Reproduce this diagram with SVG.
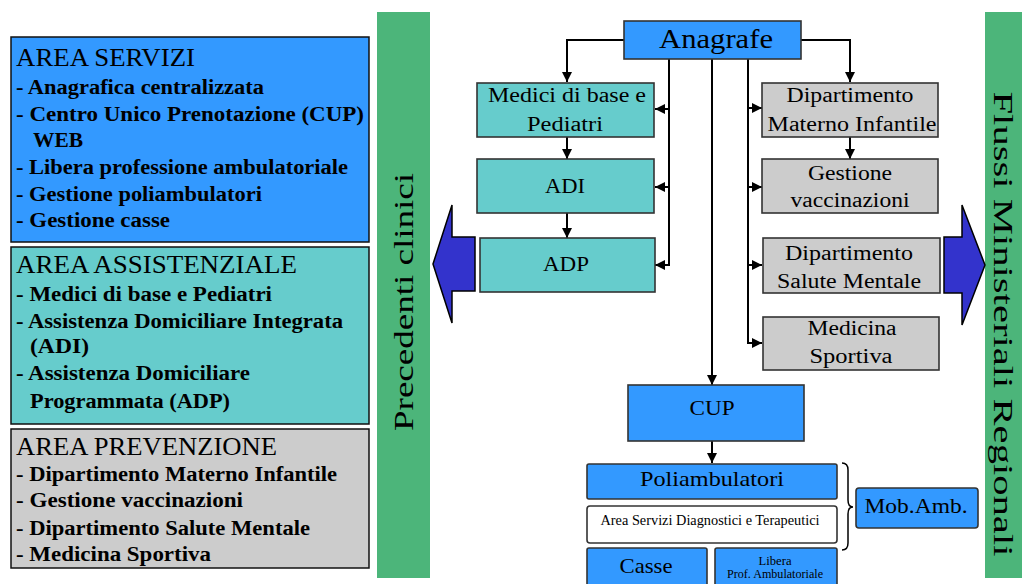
<svg xmlns="http://www.w3.org/2000/svg" width="1027" height="584" viewBox="0 0 1027 584" font-family="'Liberation Serif', 'DejaVu Serif', serif">
  <defs>
    <marker id="arr" viewBox="0 0 10 10" refX="10" refY="5" markerWidth="10" markerHeight="10" markerUnits="userSpaceOnUse" orient="auto">
      <path d="M0,0 L10,5 L0,10 z" fill="#000"/>
    </marker>
  </defs>
  <style>
    text { font-family: 'Liberation Serif', 'DejaVu Serif', serif; fill: #000; }
    .panel { stroke: #111; stroke-width: 1.5; }
    .ttl { font-size: 25px; }
    .itm { font-size: 20px; font-weight: bold; }
    .node { stroke: #333; stroke-width: 1.6; }
    .nt { font-size: 20px; text-anchor: middle; }
    .blue { fill: #3399ff; }
    .teal { fill: #66cccc; }
    .grey { fill: #cccccc; }
    .band { fill: #4cb57a; }
    .big { font-size: 28px; text-anchor: middle; }
    .conn { stroke: #000; stroke-width: 2; fill: none; }
    .fat { fill: #3333cc; stroke: #000; stroke-width: 1.5; }
  </style>

  <rect width="1027" height="584" fill="#fff"/>

  <!-- left-hand legend panels -->
  <g id="area-servizi">
    <rect class="panel blue" x="11" y="37" width="358" height="205"/>
    <text class="ttl" x="16" y="66" textLength="179" lengthAdjust="spacingAndGlyphs">AREA SERVIZI</text>
    <text class="itm" x="16" y="94" textLength="248" lengthAdjust="spacingAndGlyphs">- Anagrafica centralizzata</text>
    <text class="itm" x="16" y="121" textLength="348" lengthAdjust="spacingAndGlyphs">- Centro Unico Prenotazione (CUP)</text>
    <text class="itm" x="33" y="147" textLength="50" lengthAdjust="spacingAndGlyphs">WEB</text>
    <text class="itm" x="16" y="174" textLength="332" lengthAdjust="spacingAndGlyphs">- Libera professione ambulatoriale</text>
    <text class="itm" x="16" y="201" textLength="246" lengthAdjust="spacingAndGlyphs">- Gestione poliambulatori</text>
    <text class="itm" x="16" y="227" textLength="154" lengthAdjust="spacingAndGlyphs">- Gestione casse</text>
  </g>

  <g id="area-assistenziale">
    <rect class="panel teal" x="11" y="247" width="358" height="177"/>
    <text class="ttl" x="16" y="273" textLength="281" lengthAdjust="spacingAndGlyphs">AREA ASSISTENZIALE</text>
    <text class="itm" x="16" y="301" textLength="256" lengthAdjust="spacingAndGlyphs">- Medici di base e Pediatri</text>
    <text class="itm" x="16" y="328" textLength="327" lengthAdjust="spacingAndGlyphs">- Assistenza Domiciliare Integrata</text>
    <text class="itm" x="30" y="353" textLength="59" lengthAdjust="spacingAndGlyphs">(ADI)</text>
    <text class="itm" x="16" y="380" textLength="234" lengthAdjust="spacingAndGlyphs">- Assistenza Domiciliare</text>
    <text class="itm" x="30" y="408" textLength="200" lengthAdjust="spacingAndGlyphs">Programmata (ADP)</text>
  </g>

  <g id="area-prevenzione">
    <rect class="panel grey" x="11" y="429" width="358" height="139"/>
    <text class="ttl" x="16" y="455" textLength="261" lengthAdjust="spacingAndGlyphs">AREA PREVENZIONE</text>
    <text class="itm" x="16" y="481" textLength="321" lengthAdjust="spacingAndGlyphs">- Dipartimento Materno Infantile</text>
    <text class="itm" x="16" y="507" textLength="227" lengthAdjust="spacingAndGlyphs">- Gestione vaccinazioni</text>
    <text class="itm" x="16" y="535" textLength="294" lengthAdjust="spacingAndGlyphs">- Dipartimento Salute Mentale</text>
    <text class="itm" x="16" y="561" textLength="195" lengthAdjust="spacingAndGlyphs">- Medicina Sportiva</text>
  </g>

  <!-- vertical side bands -->
  <g id="precedenti-clinici">
    <rect class="band" x="377" y="12" width="53" height="566"/>
    <text class="big" transform="translate(413,302) rotate(-90)" textLength="258" lengthAdjust="spacingAndGlyphs">Precedenti clinici</text>
  </g>
  <g id="flussi">
    <rect class="band" x="985" y="12" width="37" height="566"/>
    <text class="big" transform="translate(994,324) rotate(90)" textLength="465" lengthAdjust="spacingAndGlyphs">Flussi Ministeriali Regionali</text>
  </g>

  <!-- block arrows towards the bands -->
  <g id="arrow-left">
    <polygon class="fat" points="433,264 452,205 452,237 475,237 475,291 452,291 452,323"/>
  </g>
  <g id="arrow-right">
    <polygon class="fat" points="944,237 962,237 962,205 985,265 962,325 962,293 944,293"/>
  </g>

  <!-- connectors -->
  <g id="connectors">
    <path class="conn" d="M624,40 H567 V82" marker-end="url(#arr)"/>
    <path class="conn" d="M801,40 H850 V82" marker-end="url(#arr)"/>
    <path class="conn" d="M567,137 V159" marker-end="url(#arr)"/>
    <path class="conn" d="M567,213 V238" marker-end="url(#arr)"/>
    <path class="conn" d="M850,137 V159" marker-end="url(#arr)"/>
    <path class="conn" d="M669,59 V265 H655" marker-end="url(#arr)"/>
    <path class="conn" d="M669,109 H655" marker-end="url(#arr)"/>
    <path class="conn" d="M669,187 H655" marker-end="url(#arr)"/>
    <path class="conn" d="M712,59 V385" marker-end="url(#arr)"/>
    <path class="conn" d="M748,59 V343 H762" marker-end="url(#arr)"/>
    <path class="conn" d="M748,108 H762" marker-end="url(#arr)"/>
    <path class="conn" d="M748,187 H762" marker-end="url(#arr)"/>
    <path class="conn" d="M748,265 H762" marker-end="url(#arr)"/>
    <path class="conn" d="M712,441 V463" marker-end="url(#arr)"/>
    <path d="M842,463 Q848,463 848,470 V500 Q848,507 853,507 Q848,507 848,514 V543 Q848,550 842,550" stroke="#000" stroke-width="1.5" fill="none"/>
  </g>

  <!-- nodes -->
  <g id="anagrafe">
    <rect class="node blue" x="624" y="21" width="177" height="38"/>
    <text class="nt" x="716" y="48" style="font-size:27px" textLength="114" lengthAdjust="spacingAndGlyphs">Anagrafe</text>
  </g>
  <g id="medici">
    <rect class="node teal" x="477" y="83" width="177" height="54"/>
    <text class="nt" x="567" y="102" textLength="158" lengthAdjust="spacingAndGlyphs">Medici di base e</text>
    <text class="nt" x="565" y="131" textLength="76" lengthAdjust="spacingAndGlyphs">Pediatri</text>
  </g>
  <g id="adi">
    <rect class="node teal" x="477" y="159" width="177" height="54"/>
    <text class="nt" x="565" y="193" textLength="40" lengthAdjust="spacingAndGlyphs">ADI</text>
  </g>
  <g id="adp">
    <rect class="node teal" x="480" y="238" width="175" height="54"/>
    <text class="nt" x="566" y="271" textLength="46" lengthAdjust="spacingAndGlyphs">ADP</text>
  </g>
  <g id="materno">
    <rect class="node grey" x="762" y="83" width="176" height="54"/>
    <text class="nt" x="850" y="102" textLength="127" lengthAdjust="spacingAndGlyphs">Dipartimento</text>
    <text class="nt" x="852" y="131" textLength="169" lengthAdjust="spacingAndGlyphs">Materno Infantile</text>
  </g>
  <g id="vaccinazioni">
    <rect class="node grey" x="762" y="159" width="176" height="54"/>
    <text class="nt" x="850" y="180" textLength="84" lengthAdjust="spacingAndGlyphs">Gestione</text>
    <text class="nt" x="850" y="207" textLength="119" lengthAdjust="spacingAndGlyphs">vaccinazioni</text>
  </g>
  <g id="salute-mentale">
    <rect class="node grey" x="763" y="238" width="177" height="55"/>
    <text class="nt" x="849" y="260" textLength="128" lengthAdjust="spacingAndGlyphs">Dipartimento</text>
    <text class="nt" x="849" y="288" textLength="144" lengthAdjust="spacingAndGlyphs">Salute Mentale</text>
  </g>
  <g id="sportiva">
    <rect class="node grey" x="763" y="317" width="176" height="53"/>
    <text class="nt" x="852" y="335" textLength="89" lengthAdjust="spacingAndGlyphs">Medicina</text>
    <text class="nt" x="851" y="363" textLength="83" lengthAdjust="spacingAndGlyphs">Sportiva</text>
  </g>
  <g id="cup">
    <rect class="node blue" x="628" y="385" width="176" height="56"/>
    <text class="nt" x="712" y="415" style="font-size:22px" textLength="45" lengthAdjust="spacingAndGlyphs">CUP</text>
  </g>
  <g id="poliambulatori">
    <rect class="node blue" x="587" y="464" width="250" height="35" rx="2"/>
    <text class="nt" x="712" y="486" style="font-size:22px" textLength="144" lengthAdjust="spacingAndGlyphs">Poliambulatori</text>
  </g>
  <g id="diagnostici">
    <rect class="node" x="587" y="506" width="250" height="37" rx="3" fill="#fff"/>
    <text class="nt" x="710" y="525" style="font-size:14px" textLength="219" lengthAdjust="spacingAndGlyphs">Area Servizi Diagnostici e Terapeutici</text>
  </g>
  <g id="casse">
    <rect class="node blue" x="587" y="548" width="120" height="40" rx="2"/>
    <text class="nt" x="646" y="573" style="font-size:22px" textLength="53" lengthAdjust="spacingAndGlyphs">Casse</text>
  </g>
  <g id="libera-prof">
    <rect class="node blue" x="715" y="548" width="122" height="40" rx="2"/>
    <text class="nt" x="775" y="565" style="font-size:13px" textLength="33" lengthAdjust="spacingAndGlyphs">Libera</text>
    <text class="nt" x="775" y="578" style="font-size:13px" textLength="96" lengthAdjust="spacingAndGlyphs">Prof. Ambulatoriale</text>
  </g>
  <g id="mob-amb">
    <rect class="node blue" x="856" y="488" width="122" height="40" rx="3"/>
    <text class="nt" x="916" y="513" style="font-size:22px" textLength="103" lengthAdjust="spacingAndGlyphs">Mob.Amb.</text>
  </g>
</svg>
